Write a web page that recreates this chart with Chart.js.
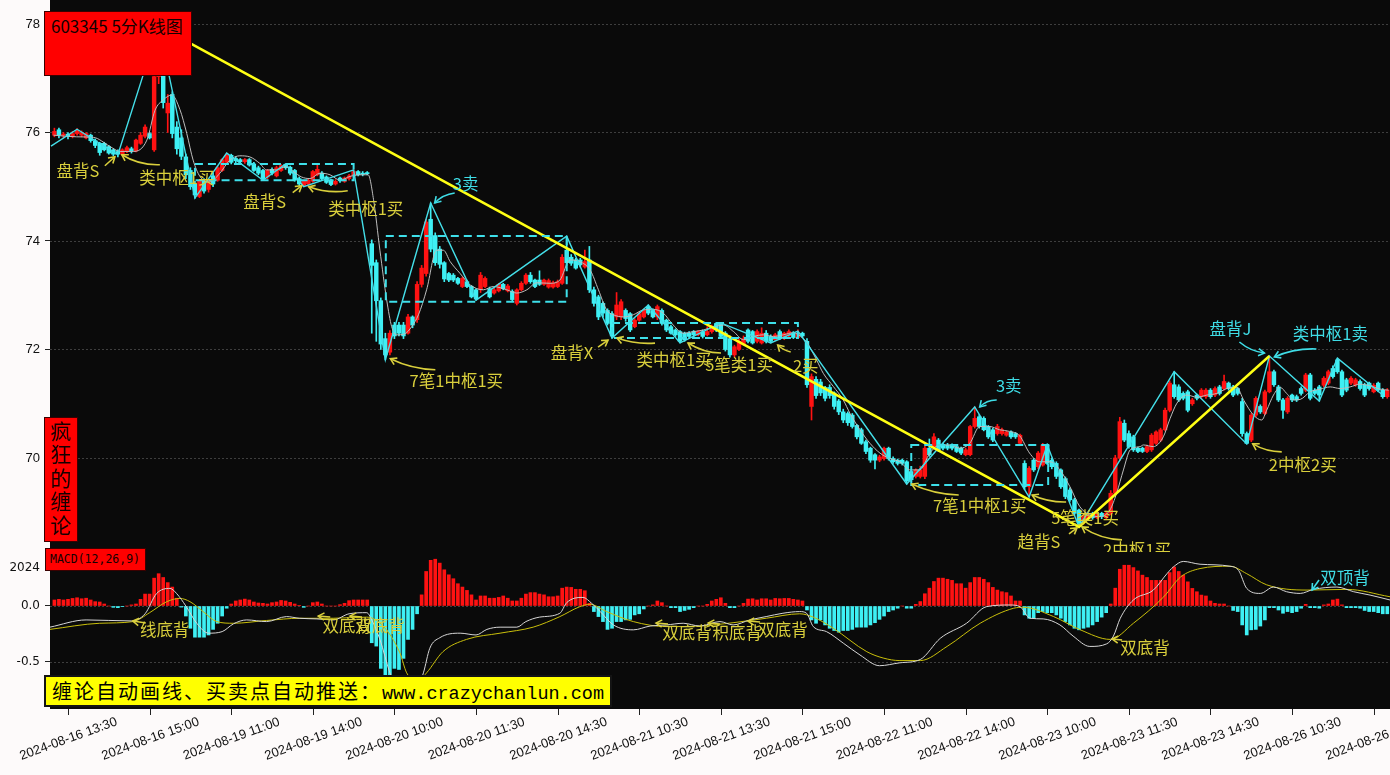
<!DOCTYPE html>
<html lang="zh">
<head>
<meta charset="utf-8">
<title>603345 5分K线图</title>
<script src="https://cdn.jsdelivr.net/npm/chart.js@4.4.1/dist/chart.umd.min.js"></script>
<style>
html,body{margin:0;padding:0;background:#fdfafa;width:1390px;height:775px;overflow:hidden;}
#wrap{position:relative;width:1390px;height:775px;}
canvas{position:absolute;left:0;display:block;}
#c1{top:0;width:1390px;height:552px;}
#c2{top:552px;width:1390px;height:223px;}
.tag{position:absolute;box-sizing:border-box;background:#ff0000;border:1px solid #3a0000;color:#140000;font-family:"Noto Sans CJK SC",sans-serif;}
#title{left:44px;top:11px;width:148px;height:65px;font-size:17px;line-height:28px;padding-left:6px;white-space:nowrap;}
#side{left:44px;top:417px;width:34px;height:125px;font-size:21px;line-height:23.4px;text-align:center;padding-top:1px;}
#macdlab{left:45px;top:548px;width:101px;height:23px;font-family:"DejaVu Sans Mono",monospace;font-size:11.5px;line-height:21px;padding-left:4px;}
#banner{position:absolute;box-sizing:border-box;left:44px;top:675px;width:568px;height:32px;background:#ffff00;border:2px solid #141414;color:#000;line-height:27px;padding-left:6px;white-space:nowrap;}
#banner .cn{font-family:"Noto Sans CJK SC",sans-serif;font-size:20px;letter-spacing:2px;}
#banner .url{font-family:"Liberation Mono",monospace;font-size:18.5px;}
</style>
</head>
<body>
<div id="wrap">
<canvas id="c1" width="1390" height="552"></canvas>
<canvas id="c2" width="1390" height="223"></canvas>
<div class="tag" id="title">603345 5分K线图</div>
<div class="tag" id="side">疯<br>狂<br>的<br>缠<br>论</div>
<div class="tag" id="macdlab">MACD(12,26,9)</div>
<div id="banner"><span class="cn">缠论自动画线、买卖点自动推送：</span><span class="url">www.crazychanlun.com</span></div>
</div>
<script>
// ---------------- data (5-minute bars, index 0 = 2024-08-16 13:15) ----------------
const opens = [
75.95,76.05,75.95,75.97,75.93,75.98,75.95,75.90,75.95,75.85,
75.80,75.80,75.74,75.68,75.65,75.60,75.65,75.70,75.66,75.80,
75.93,75.98,75.68,77.03,77.70,76.36,76.70,76.10,75.90,75.55,
75.30,75.05,74.82,75.10,74.95,75.20,75.12,75.30,75.45,75.58,
75.52,75.50,75.46,75.50,75.42,75.35,75.30,75.18,75.32,75.20,
75.30,75.41,75.36,75.30,75.15,75.02,75.05,75.10,75.22,75.25,
75.18,75.12,75.05,75.16,75.10,75.15,75.20,75.28,75.25,75.26,
73.95,73.60,72.90,72.20,71.95,72.45,72.45,72.45,72.30,72.60,
72.55,73.20,73.40,74.40,74.10,73.85,73.60,73.40,73.37,73.31,
73.16,73.25,73.16,73.10,73.10,73.16,73.12,73.04,73.08,73.20,
73.08,73.07,72.85,73.10,73.22,73.37,73.28,73.28,73.20,73.15,
73.15,73.16,73.22,73.83,73.70,73.65,73.65,73.52,73.65,73.10,
72.97,72.85,72.72,72.66,72.60,72.60,72.72,72.66,72.42,72.54,
72.60,72.79,72.72,72.60,72.72,72.54,72.42,72.36,72.33,72.30,
72.30,72.33,72.27,72.33,72.27,72.33,72.48,72.48,72.30,72.20,
71.90,72.00,72.10,72.36,72.33,72.15,72.12,72.30,72.24,72.18,
72.33,72.20,72.25,72.30,72.22,72.30,72.15,70.95,71.45,71.40,
71.30,71.30,71.20,71.05,70.85,70.82,70.79,70.60,70.52,70.30,
70.18,70.06,69.96,69.99,70.18,69.99,69.96,69.96,69.93,69.75,
69.66,69.66,69.66,70.18,70.21,70.33,70.24,70.24,70.24,70.21,
70.18,70.06,70.06,70.58,70.76,70.73,70.58,70.52,70.45,70.45,
70.42,70.48,70.45,70.27,69.90,69.47,69.96,69.84,69.87,70.24,
69.96,69.90,69.78,69.62,69.41,69.23,69.04,68.82,68.88,68.98,
68.90,68.98,68.90,68.98,69.35,70.00,70.64,70.45,70.39,70.18,
70.18,70.12,70.15,70.27,70.33,70.52,70.88,71.35,71.31,71.19,
71.22,71.00,71.16,71.13,71.13,71.25,71.16,71.31,71.28,71.38,
71.31,71.28,71.04,70.45,70.33,70.79,70.95,70.82,71.22,71.59,
71.31,71.07,70.85,71.16,71.13,71.28,71.25,71.53,71.25,71.31,
71.34,71.38,71.65,71.81,71.59,71.44,71.38,71.35,71.41,71.35,
71.38,71.22,71.38,71.25,71.13];
const highs = [
76.08,76.08,76.00,76.00,76.02,76.07,76.03,76.00,75.97,75.88,
75.82,75.82,75.76,75.70,75.68,75.70,75.75,75.73,75.88,76.00,
76.14,76.00,77.10,77.96,77.80,76.70,76.75,76.20,76.05,75.60,
75.35,75.10,75.12,75.15,75.12,75.25,75.38,75.52,75.62,75.60,
75.55,75.52,75.52,75.52,75.45,75.38,75.32,75.32,75.35,75.38,
75.41,75.42,75.38,75.32,75.18,75.12,75.15,75.30,75.40,75.28,
75.20,75.14,75.13,75.18,75.18,75.23,75.31,75.30,75.28,75.28,
74.02,73.65,72.95,72.30,72.35,72.50,72.50,72.50,72.65,72.62,
73.25,73.55,74.40,74.70,74.15,73.90,73.62,73.42,73.40,73.33,
73.34,73.28,73.18,73.12,73.42,73.34,73.15,73.13,73.22,73.22,
73.20,73.10,73.12,73.25,73.40,73.42,73.30,73.45,73.30,73.30,
73.26,73.28,73.75,74.09,73.75,73.68,73.68,73.83,73.90,73.15,
73.00,72.88,72.75,72.70,73.05,72.92,72.75,72.68,72.57,72.69,
72.75,72.82,72.75,72.82,72.75,72.56,72.45,72.38,72.35,72.32,
72.33,72.35,72.35,72.36,72.42,72.45,72.50,72.49,72.33,72.25,
72.08,72.20,72.25,72.38,72.35,72.36,72.40,72.35,72.27,72.30,
72.36,72.32,72.36,72.33,72.36,72.32,72.20,71.55,71.50,71.45,
71.32,71.35,71.22,71.08,70.90,70.85,70.82,70.62,70.55,70.33,
70.20,70.08,70.05,70.20,70.20,70.02,69.98,69.98,69.95,69.78,
69.80,69.85,70.22,70.35,70.45,70.36,70.27,70.27,70.26,70.24,
70.20,70.18,70.60,70.94,70.80,70.76,70.60,70.55,70.62,70.55,
70.50,70.50,70.47,70.44,69.95,69.84,69.99,70.12,70.27,70.26,
70.00,69.93,69.80,69.65,69.45,69.26,69.06,68.95,68.98,69.00,
69.02,69.00,69.02,69.40,70.05,70.75,70.70,70.50,70.42,70.20,
70.20,70.24,70.45,70.50,70.55,70.92,71.42,71.59,71.35,71.22,
71.25,71.10,71.18,71.28,71.28,71.28,71.31,71.34,71.53,71.40,
71.34,71.30,71.10,70.48,70.82,71.13,70.98,71.25,71.88,71.62,
71.34,71.10,71.13,71.18,71.16,71.31,71.56,71.56,71.28,71.34,
71.50,71.62,71.70,71.84,71.62,71.47,71.50,71.47,71.44,71.38,
71.40,71.37,71.40,71.28,71.28];
const lows = [
75.92,75.90,75.90,75.88,75.90,75.95,75.92,75.88,75.82,75.72,
75.58,75.66,75.60,75.57,75.55,75.58,75.63,75.62,75.64,75.78,
75.90,75.88,75.65,76.90,76.45,76.00,75.90,75.60,75.50,75.15,
74.95,74.79,74.80,74.88,74.90,75.00,75.10,75.28,75.42,75.42,
75.44,75.44,75.43,75.38,75.28,75.22,75.12,75.15,75.22,75.18,
75.28,75.32,75.22,75.10,75.02,75.00,75.02,75.08,75.20,75.12,
75.06,75.02,75.03,75.08,75.08,75.12,75.18,75.20,75.20,75.22,
72.30,72.15,72.00,71.81,71.90,72.20,72.25,72.20,72.28,72.40,
72.50,73.15,73.35,73.80,73.55,73.50,73.25,73.25,73.25,73.20,
73.14,73.14,72.95,72.91,73.05,73.14,72.95,73.02,73.06,73.10,
73.06,72.90,72.82,73.08,73.20,73.22,73.14,73.18,73.18,73.13,
73.13,73.14,73.20,73.55,73.55,73.48,73.52,73.50,73.05,72.80,
72.55,72.60,72.45,72.21,72.55,72.55,72.52,72.33,72.40,72.52,
72.58,72.64,72.58,72.55,72.45,72.33,72.28,72.24,72.12,72.15,
72.21,72.24,72.25,72.21,72.25,72.30,72.33,72.20,71.97,71.86,
71.86,71.98,72.08,72.12,72.10,72.12,72.10,72.12,72.12,72.16,
72.18,72.18,72.22,72.20,72.20,72.22,71.30,70.70,71.10,71.15,
71.05,71.10,70.90,70.80,70.65,70.60,70.55,70.35,70.25,70.08,
69.92,69.80,69.93,69.96,69.96,69.90,69.87,69.87,69.52,69.56,
69.63,69.63,69.62,70.03,70.18,70.12,70.15,70.15,70.15,70.10,
70.06,70.04,70.04,70.55,70.55,70.50,70.36,70.30,70.42,70.42,
70.40,70.36,70.36,70.24,69.42,69.28,69.75,69.80,69.85,69.88,
69.80,69.62,69.44,69.25,69.20,68.95,68.73,68.78,68.85,68.87,
68.88,68.88,68.87,68.95,69.30,69.95,70.30,70.18,70.12,70.10,
70.10,70.10,70.12,70.25,70.30,70.50,70.85,71.10,71.04,71.07,
70.85,70.97,71.07,71.10,71.10,71.10,71.13,71.16,71.25,71.25,
71.13,71.16,70.40,70.26,70.30,70.76,70.82,70.80,71.20,71.32,
71.04,70.73,70.82,71.04,71.04,71.16,71.22,71.07,71.16,71.05,
71.31,71.35,71.47,71.56,71.13,71.22,71.35,71.32,71.25,71.13,
71.25,71.20,71.22,71.10,71.10];
const closes = [
76.02,75.95,75.97,75.93,75.98,76.04,76.00,75.98,75.85,75.76,
75.63,75.68,75.62,75.60,75.60,75.68,75.72,75.66,75.86,75.95,
76.10,75.90,77.03,77.70,76.55,76.54,75.98,75.70,75.56,75.22,
75.00,74.85,75.10,74.92,75.10,75.05,75.35,75.50,75.58,75.45,
75.48,75.46,75.50,75.40,75.30,75.25,75.15,75.30,75.25,75.35,
75.39,75.35,75.25,75.12,75.05,75.10,75.12,75.28,75.32,75.15,
75.08,75.04,75.10,75.11,75.16,75.20,75.28,75.22,75.23,75.24,
73.55,72.90,72.10,71.90,72.30,72.25,72.30,72.25,72.60,72.45,
73.20,73.50,74.35,73.85,73.60,73.57,73.30,73.28,73.28,73.22,
73.31,73.16,72.97,72.93,73.37,73.31,72.97,73.10,73.20,73.12,
73.17,72.92,73.10,73.22,73.37,73.25,73.16,73.20,73.28,73.27,
73.23,73.25,73.70,73.60,73.59,73.50,73.56,73.62,73.10,72.85,
72.60,72.67,72.48,72.25,72.82,72.88,72.57,72.36,72.54,72.66,
72.72,72.67,72.60,72.79,72.48,72.36,72.30,72.27,72.15,72.18,
72.24,72.27,72.33,72.24,72.33,72.42,72.36,72.24,72.00,71.90,
72.05,72.15,72.20,72.15,72.12,72.33,72.30,72.15,72.15,72.27,
72.20,72.30,72.33,72.22,72.30,72.25,71.35,71.50,71.15,71.20,
71.10,71.15,70.95,70.85,70.70,70.65,70.58,70.39,70.27,70.12,
69.96,69.96,70.02,70.18,69.99,69.93,69.90,69.90,69.58,69.60,
69.78,69.78,70.18,70.06,70.39,70.15,70.18,70.18,70.18,70.12,
70.09,70.15,70.58,70.73,70.58,70.52,70.39,70.33,70.58,70.52,
70.48,70.39,70.39,70.42,69.47,69.81,69.78,70.09,70.24,69.90,
69.84,69.66,69.47,69.29,69.23,68.98,68.80,68.92,68.95,68.90,
68.96,68.92,68.98,69.35,70.00,70.67,70.33,70.21,70.15,70.12,
70.12,70.21,70.42,70.48,70.52,70.88,71.38,71.13,71.07,71.10,
70.88,71.07,71.10,71.25,71.25,71.13,71.28,71.19,71.41,71.28,
71.16,71.19,70.45,70.27,70.79,71.10,70.85,71.22,71.59,71.35,
71.07,70.88,71.10,71.07,71.07,71.19,71.53,71.10,71.19,71.16,
71.47,71.59,71.50,71.59,71.16,71.25,71.47,71.44,71.28,71.16,
71.28,71.34,71.25,71.13,71.25];
// moving average (grey): [bar index, price]
const maPts = [[-0.2,75.95],[4.9,75.92],[8.6,75.91],[12.3,75.74],[14.5,75.65],[17.4,75.65],[20.4,75.86],[22.2,76.41],[24,76.6],[25.9,76.69],[27.7,76.42],[29.2,75.98],[30.6,75.49],[32.1,75.19],[34.3,75.09],[36.5,75.25],[38.7,75.49],[40.9,75.57],[43.1,75.55],[45.3,75.43],[46.8,75.31],[49,75.31],[50.9,75.37],[52.7,75.28],[54.5,75.18],[56.4,75.15],[58.6,75.25],[60.8,75.22],[63,75.12],[65.2,75.19],[67.4,75.22],[69.2,75.22],
[70.4,74.76],[71.8,73.83],[73.3,72.91],[74.4,72.42],[75.5,72.27],[77.3,72.29],[78.8,72.42],[80.3,72.64],[82.1,73.10],[84.3,73.83],[85.8,73.83],[87.3,73.62],[89.5,73.40],[91.7,73.19],[94.6,73.10],[96.8,73.16],[99.8,73.10],[102,73.04],[104.2,73.10],[106.4,73.23],[109.3,73.22],[111.5,73.28],[113.7,73.65],[115.9,73.62],[118.2,73.46],[120,73.10],[121.8,72.73],[123.3,72.64],[125.5,72.60],[127.7,72.64],[129.9,72.73],[132.1,72.74],[134.3,72.67],[136.5,72.45],[138.7,72.30],[141,72.33],[143.2,72.36],[145.4,72.42],[147.6,72.45],[149.8,72.33],[152,72.18],[154.2,72.24],[156.4,72.27],[158.6,72.24],[160.8,72.27],[163,72.31],
[164.1,72.27],[165.9,72.14],[168.1,71.81],[169.6,71.56],[171.8,71.32],[174,71.07],[175.5,70.82],[177.7,70.52],[179.9,70.27],[182.1,70.09],[184.3,69.99],[186.5,69.93],[188.7,69.78],[190.9,69.78],[193.1,70.09],[195.3,70.24],[197.5,70.24],[199.7,70.18],[201.9,70.27],[204.1,70.58],[206.3,70.58],[208.5,70.52],[210.7,70.49],[212.9,70.41],[215.1,70.09],[217.3,69.93],[219.6,69.93],[221.8,69.78],[224,69.47],[226.2,69.10],[228.4,68.95],[230.6,68.92],[232.8,69.04],[234.3,69.35],[235.8,69.78],[237.3,70.15],[239.5,70.21],
[240.2,70.24],[242.4,70.21],[244.6,70.39],[246.1,70.73],[247.6,71.01],[249.8,71.16],[252,71.12],[254.2,71.16],[256.4,71.19],[258.6,71.28],[260.8,71.30],[262.3,71.07],[264.5,70.79],[266.3,70.70],[267.4,70.88],[268.9,71.16],[270.4,71.30],[271.8,71.19],[273.3,71.07],[274.8,71.08],[277,71.22],[279.2,71.27],[281.4,71.31],[283.6,71.28],[285.8,71.31],[288,71.36],[290.2,71.33],[292.4,71.27],[294.3,71.25]];
// 笔 (cyan zigzag) and 线段 (yellow) pivots: [bar index, price]
const biPts = [[-0.75,75.75],[5,76.06],[14,75.59],[23,77.96],[31,74.79],[38,75.62],[46,75.12],[51,75.42],[55,75.0],[66,75.31],[73,71.81],[83,74.70],[93,72.91],[113,74.09],[123,72.21],[131,72.82],[138,72.12],[147,72.49],[158,72.12],[164,72.34],[188,69.52],[203,70.94],[215,69.28],[219,70.24],[226,68.73],[247,71.59],[263,70.26],[268,71.88],[279,71.05],[283,71.84],[293,71.16]];
const segPts = [[23,77.96],[226,68.73],[268,71.88]];
// 中枢 boxes: [start index, end index, low, high]
const zsBoxes = [[31,66,75.12,75.42],[73.1,113,72.88,74.09],[123,164,72.21,72.49],[189,219.2,69.50,70.24]];
// MACD
const macdHist = [
0.054,0.06,0.054,0.06,0.068,0.074,0.065,0.07,0.054,0.039,
0.036,0.018,0,-0.012,-0.015,-0.006,0,0.01,0.018,0.06,
0.107,0.107,0.25,0.29,0.256,0.21,0.17,0.07,-0.01,-0.09,
-0.2,-0.28,-0.28,-0.28,-0.26,-0.21,-0.155,-0.09,-0.02,0.018,
0.045,0.054,0.062,0.054,0.036,0.027,0.024,0.018,0.03,0.036,
0.05,0.045,0.033,0.018,0.006,-0.012,0,0.03,0.036,0.018,
0,0,0,0.012,0.024,0.048,0.054,0.054,0.054,0.054,
-0.33,-0.36,-0.56,-0.65,-0.62,-0.56,-0.57,-0.47,-0.3,-0.21,
-0.07,0.1,0.31,0.41,0.42,0.385,0.325,0.28,0.245,0.2,
0.17,0.14,0.1,0.054,0.09,0.09,0.07,0.07,0.077,0.09,
0.07,0.045,0.045,0.07,0.107,0.12,0.12,0.107,0.1,0.083,
0.083,0.09,0.16,0.17,0.167,0.15,0.15,0.137,0.024,-0.05,
-0.095,-0.14,-0.21,-0.2,-0.14,-0.14,-0.125,-0.12,-0.08,-0.07,
-0.027,0,0.01,0.045,0.03,0,-0.015,-0.015,-0.05,-0.04,
-0.03,-0.015,0,0,0.015,0.045,0.06,0.074,0.024,-0.015,
-0.015,0,0.024,0.062,0.065,0.054,0.065,0.065,0.054,0.068,
0.065,0.068,0.068,0.06,0.054,0.045,-0.036,-0.125,-0.155,-0.125,
-0.17,-0.2,-0.22,-0.235,-0.22,-0.22,-0.21,-0.19,-0.19,-0.19,
-0.17,-0.15,-0.12,-0.09,-0.05,-0.036,-0.02,0,-0.02,-0.02,
0.015,0.04,0.11,0.16,0.22,0.25,0.25,0.24,0.23,0.2,
0.2,0.16,0.21,0.256,0.256,0.24,0.21,0.167,0.143,0.128,
0.12,0.09,0.045,0.045,-0.08,-0.11,-0.11,-0.06,-0.05,-0.06,
-0.06,-0.08,-0.11,-0.14,-0.17,-0.2,-0.214,-0.2,-0.19,-0.17,
-0.14,-0.1,-0.06,0.018,0.16,0.33,0.366,0.366,0.345,0.315,
0.277,0.256,0.23,0.23,0.23,0.23,0.3,0.35,0.31,0.277,
0.217,0.158,0.128,0.098,0.09,0.045,0.024,0.018,0.018,0,
-0.04,-0.05,-0.17,-0.26,-0.214,-0.21,-0.18,-0.125,-0.015,-0.015,
-0.036,-0.065,-0.05,-0.06,-0.05,-0.02,0.015,-0.015,-0.015,-0.02,
0.01,0.018,0.054,0.062,0.01,-0.015,-0.015,-0.015,-0.02,-0.04,
-0.05,-0.05,-0.06,-0.07,-0.07];
const difPts = [[-1,-0.19],[7,-0.125],[17,-0.134],[20,-0.07],[22.5,0.11],[25.5,0.158],[27,0.11],[29,0],[31.4,-0.155],[34,-0.244],[37,-0.23],[39.5,-0.16],[42.4,-0.125],[46.8,-0.14],[51.2,-0.095],[54,-0.11],[57.9,-0.116],[61.5,-0.125],[65,-0.07],[68.9,-0.06],[70,-0.125],[71.8,-0.3],[74,-0.6],[76,-0.8],[78,-0.88],[80,-0.75],[81.4,-0.6],[82.8,-0.38],[85,-0.285],[89.5,-0.244],[93,-0.26],[95.4,-0.21],[98.3,-0.19],[102,-0.19],[104,-0.14],[107,-0.1],[111.5,-0.065],[113,0.03],[116.6,0.077],[118.5,0.024],[120.4,-0.05],[123.3,-0.17],[127.7,-0.214],[131.4,-0.18],[135,-0.17],[138.7,-0.155],[142.4,-0.18],[146.8,-0.14],[149.7,-0.17],[153.4,-0.125],[157,-0.095],[160.7,-0.065],[164.4,-0.05],[165.9,-0.065],[167.4,-0.185],[170.3,-0.23],[174,-0.333],[177.7,-0.44],[182,-0.536],[186.5,-0.51],[191,-0.48],[195.4,-0.29],[201.2,-0.155],[205.6,-0.006],[210.8,0.009],[213,-0.006],[215.2,-0.11],[218.1,-0.116],[221.8,-0.17],[224.7,-0.27],[228.4,-0.363],[232.1,-0.34],[233.6,-0.27],[235.1,-0.11],[238,0.054],[242.4,0.143],[245.4,0.29],[246.8,0.35],[249,0.4],[252.7,0.375],[259.3,0.357],[261.2,0.32],[263,0.158],[266,0.113],[268.9,0.17],[271.8,0.128],[274.8,0.113],[277.7,0.149],[282.9,0.17],[286.6,0.128],[290.2,0.098],[294.6,0.054]];
const deaPts = [[-1,-0.21],[10,-0.155],[17.4,-0.14],[21,-0.06],[24.8,0.039],[27.7,0.068],[29.9,0.039],[32.8,-0.05],[35.8,-0.14],[39.5,-0.155],[46.8,-0.13],[54.2,-0.11],[61.5,-0.11],[68.9,-0.1],[72.6,-0.185],[76.2,-0.42],[77.7,-0.6],[80,-0.68],[82.1,-0.6],[85.7,-0.41],[90.9,-0.3],[98.3,-0.244],[105.6,-0.19],[111.5,-0.095],[115.9,-0.006],[118.1,0.015],[121.8,-0.05],[127.7,-0.14],[135,-0.185],[142.4,-0.18],[149.7,-0.15],[157,-0.11],[164.4,-0.07],[167.4,-0.1],[171.8,-0.2],[179.2,-0.41],[182.8,-0.467],[186.5,-0.49],[191,-0.49],[196.9,-0.363],[204.2,-0.155],[211.6,-0.02],[213.8,-0.012],[220.4,-0.095],[226.3,-0.214],[232.9,-0.3],[238,-0.155],[244.7,0.083],[248.4,0.26],[252.7,0.336],[259.3,0.357],[263,0.29],[267.4,0.19],[276.3,0.143],[285.1,0.149],[294.6,0.083]];
// axes
const priceTicks = [70,72,74,76,78];
const macdTicks = [-0.5,0,0.338];
const macdTickLabels = ['-0.5','0.0','2024'];
const tickIdx = [3,21,39,57,75,93,111,129,147,165,183,201,219,237,255,273,291];
const timeLabels = ['2024-08-16 13:30','2024-08-16 15:00','2024-08-19 11:00','2024-08-19 14:00','2024-08-20 10:00','2024-08-20 11:30','2024-08-20 14:30','2024-08-21 10:30','2024-08-21 13:30','2024-08-21 15:00','2024-08-22 11:00','2024-08-22 14:00','2024-08-23 10:00','2024-08-23 11:30','2024-08-23 14:30','2024-08-26 10:30','2024-08-26 13:30'];
// signal labels: anchor [index, value]; text offset and arrow offsets in px
const YEL = '#d9cf3c', CYN = '#3fdde6';
const priceNotes = [
 {t:'盘背S',c:YEL,at:[14,75.59],tx:-40,ty:16,a0:[-13,11],a1:[-3,2],b:0},
 {t:'类中枢1买',c:YEL,at:[14,75.59],tx:59,ty:23,a0:[42,10],a1:[4,0],b:-6},
 {t:'盘背S',c:YEL,at:[55,75.0],tx:-39,ty:15,a0:[-11,6],a1:[-2,-1],b:0},
 {t:'类中枢1买',c:YEL,at:[55,75.0],tx:62,ty:22,a0:[44,4],a1:[5,0],b:-5},
 {t:'3卖',c:CYN,at:[83,74.70],tx:35,ty:-19,a0:[24,-10],a1:[4,0],b:4},
 {t:'7笔1中枢1买',c:YEL,at:[73,71.81],tx:71,ty:21,a0:[50,10],a1:[5,-1],b:-5},
 {t:'盘背X',c:YEL,at:[123,72.21],tx:-40,ty:15,a0:[-14,9],a1:[-4,2],b:0},
 {t:'类中枢1买',c:YEL,at:[123,72.21],tx:62,ty:22,a0:[43,5],a1:[5,0],b:-4},
 {t:'5笔类1买',c:YEL,at:[138,72.12],tx:59,ty:22,a0:[41,10],a1:[8,0],b:-5},
 {t:'2买',c:YEL,at:[158,72.12],tx:35,ty:23,a0:[20,9],a1:[7,2],b:-2},
 {t:'3卖',c:CYN,at:[203,70.94],tx:34,ty:-21,a0:[22,-7],a1:[5,0],b:4},
 {t:'7笔1中枢1买',c:YEL,at:[188,69.52],tx:73,ty:22,a0:[52,11],a1:[5,0],b:-5},
 {t:'5笔类1买',c:YEL,at:[215,69.28],tx:56,ty:21,a0:[37,5],a1:[3,-2],b:-4},
 {t:'趋背S',c:YEL,at:[226,68.73],tx:-40,ty:15,a0:[-10,7],a1:[-2,1],b:0},
 {t:'2中枢1买',c:YEL,at:[226,68.73],tx:58,ty:23,a0:[43,13],a1:[3,0],b:-6},
 {t:'盘背J',c:CYN,at:[268,71.88],tx:-39,ty:-27,a0:[-30,-14],a1:[-5,-3],b:4},
 {t:'类中枢1卖',c:CYN,at:[268,71.88],tx:61,ty:-22,a0:[47,-7],a1:[5,1],b:5},
 {t:'2中枢2买',c:YEL,at:[263,70.26],tx:56,ty:21,a0:[35,8],a1:[6,0],b:-4}
];
const macdNotes = [
 {t:'线底背',c:YEL,at:[17.3,-0.135],tx:32,ty:9,a0:[13,2],a1:[0,0],b:0},
 {t:'双底背',c:YEL,at:[58.2,-0.09],tx:29,ty:10,a0:[12,1],a1:[0,0],b:0},
 {t:'双底背',c:YEL,at:[65.2,-0.09],tx:30,ty:10,a0:[12,1],a1:[0,0],b:0},
 {t:'双底背',c:YEL,at:[132.7,-0.153],tx:31,ty:10,a0:[12,1],a1:[0,0],b:0},
 {t:'积底背',c:YEL,at:[144.2,-0.153],tx:29,ty:10,a0:[12,1],a1:[0,0],b:0},
 {t:'双底背',c:YEL,at:[153,-0.135],tx:35,ty:9,a0:[12,1],a1:[0,0],b:0},
 {t:'双底背',c:YEL,at:[233.3,-0.296],tx:33,ty:9,a0:[10,1],a1:[0,0],b:0},
 {t:'双顶背',c:CYN,at:[277.4,0.144],tx:33,ty:-12,a0:[7,-10],a1:[0,0],b:0}
];

// ---------------- layout constants ----------------
const X_MIN = -0.97, X_MAX = 294.6;
const P_MIN = 68.267, P_MAX = 78.442;
const M_MIN = -0.9246, M_MAX = 0.4847;
const UP = '#ff1212', DOWN = '#3ef0f4';

const idx = closes.map((_, i) => i);
const candleColors = idx.map(i => closes[i] >= opens[i] ? UP : DOWN);
const histColors = macdHist.map(v => v >= 0 ? UP : DOWN);
const toXY = arr => arr.map(p => ({x: p[0], y: p[1]}));

function drawArrow(ctx, x0, y0, x1, y1, bend, color) {
  const mx = (x0 + x1) / 2, my = (y0 + y1) / 2;
  const dx = x1 - x0, dy = y1 - y0, len = Math.hypot(dx, dy) || 1;
  const cx = mx - dy / len * bend, cy = my + dx / len * bend;
  ctx.strokeStyle = color; ctx.lineWidth = 1.6; ctx.setLineDash([]);
  ctx.beginPath(); ctx.moveTo(x0, y0); ctx.quadraticCurveTo(cx, cy, x1, y1); ctx.stroke();
  const ang = Math.atan2(y1 - cy, x1 - cx), h = 7, w = 0.55;
  ctx.beginPath();
  ctx.moveTo(x1 - h * Math.cos(ang - w), y1 - h * Math.sin(ang - w));
  ctx.lineTo(x1, y1);
  ctx.lineTo(x1 - h * Math.cos(ang + w), y1 - h * Math.sin(ang + w));
  ctx.stroke();
}

const bgPlugin = {id: 'bg', beforeDraw(c) {
  const {ctx, chartArea: a} = c; ctx.save(); ctx.fillStyle = '#0a0a0a';
  ctx.fillRect(a.left, a.top, a.width, a.height); ctx.restore();
}};
function gridPlugin(values) {
  return {id: 'dotgrid', beforeDatasetsDraw(c) {
    const {ctx, chartArea: a, scales: {y}} = c;
    ctx.save(); ctx.strokeStyle = '#3e3e3e'; ctx.lineWidth = 1; ctx.setLineDash([2, 2]);
    values.forEach(v => {
      const py = Math.round(y.getPixelForValue(v)) + 0.5;
      ctx.beginPath(); ctx.moveTo(a.left, py); ctx.lineTo(a.right, py); ctx.stroke();
    });
    ctx.restore();
  }};
}
function notesPlugin(notes, boxes, fontPx) {
  return {id: 'notes', afterDatasetsDraw(c) {
    const {ctx, chartArea: a, scales: {x, y}} = c;
    ctx.save();
    ctx.beginPath(); ctx.rect(a.left, a.top, a.width, a.height); ctx.clip();
    boxes.forEach(b => {
      const x0 = x.getPixelForValue(b[0]), x1 = x.getPixelForValue(b[1]);
      const y0 = y.getPixelForValue(b[3]), y1 = y.getPixelForValue(b[2]);
      ctx.strokeStyle = '#3ee0ea'; ctx.lineWidth = 2; ctx.setLineDash([8, 5]);
      ctx.strokeRect(x0, y0, x1 - x0, y1 - y0);
    });
    ctx.setLineDash([]);
    ctx.font = fontPx + 'px "Noto Sans CJK SC", sans-serif';
    ctx.textAlign = 'center'; ctx.textBaseline = 'middle';
    notes.forEach(n => {
      const px = x.getPixelForValue(n.at[0]), py = y.getPixelForValue(n.at[1]);
      drawArrow(ctx, px + n.a0[0], py + n.a0[1], px + n.a1[0], py + n.a1[1], n.b, n.c);
      ctx.fillStyle = n.c;
      ctx.fillText(n.t, px + n.tx, py + n.ty);
    });
    ctx.restore();
  }};
}
const xLabelPlugin = {id: 'xlabels', afterDraw(c) {
  const {ctx, chartArea: a, scales: {x}} = c;
  ctx.save();
  ctx.strokeStyle = '#222'; ctx.lineWidth = 1;
  ctx.font = '13px "Liberation Sans", Arial, sans-serif';
  ctx.fillStyle = '#111'; ctx.textAlign = 'center'; ctx.textBaseline = 'middle';
  tickIdx.forEach((v, k) => {
    const px = Math.round(x.getPixelForValue(v)) + 0.5;
    ctx.beginPath(); ctx.moveTo(px, a.bottom); ctx.lineTo(px, a.bottom + 6); ctx.stroke();
    ctx.save(); ctx.translate(px, a.bottom + 30); ctx.rotate(-20 * Math.PI / 180);
    ctx.fillText(timeLabels[k], 0, 0); ctx.restore();
  });
  ctx.restore();
}};

function yAxis(min, max, tickVals, labelFn, fontFamily, size) {
  return {
    type: 'linear', position: 'left', min: min, max: max,
    afterFit(s) { s.width = 50; s.paddingTop = 0; s.paddingBottom = 0; },
    afterBuildTicks(s) { s.ticks = tickVals.map(v => ({value: v})); },
    ticks: {color: '#111', padding: 5, font: {family: fontFamily, size: size}, callback: labelFn},
    grid: {drawOnChartArea: false, drawTicks: true, tickLength: 5, tickColor: '#222'},
    border: {display: false}
  };
}
const xAxis = {type: 'linear', min: X_MIN, max: X_MAX, display: false, offset: false};

Chart.defaults.font.family = '"Liberation Sans", Arial, sans-serif';

new Chart(document.getElementById('c1'), {
  type: 'bar',
  data: {datasets: [
    {type: 'line', label: '线段', data: toXY(segPts), borderColor: '#ffff14', borderWidth: 2.5, pointRadius: 0, order: 1},
    {type: 'line', label: '笔', data: toXY(biPts), borderColor: '#44dfe9', borderWidth: 1.4, pointRadius: 0, order: 2},
    {type: 'line', label: 'MA', data: toXY(maPts), borderColor: '#bdbdbd', borderWidth: 1, pointRadius: 0, cubicInterpolationMode: 'monotone', order: 3},
    {label: 'body', data: idx.map(i => ({x: i, y: [opens[i], closes[i]]})), backgroundColor: candleColors, barThickness: 3.8, minBarLength: 1, grouped: false, order: 4},
    {label: 'wick', data: idx.map(i => ({x: i, y: [lows[i], highs[i]]})), backgroundColor: candleColors, barThickness: 1, grouped: false, order: 5}
  ]},
  options: {
    responsive: false, animation: false, devicePixelRatio: 1,
    layout: {padding: 0},
    plugins: {legend: {display: false}, tooltip: {enabled: false}},
    scales: {
      x: xAxis,
      y: yAxis(P_MIN, P_MAX, priceTicks, v => String(v), '"Liberation Sans", Arial, sans-serif', 13)
    }
  },
  plugins: [bgPlugin, gridPlugin(priceTicks), notesPlugin(priceNotes, zsBoxes, 16.5)]
});

new Chart(document.getElementById('c2'), {
  type: 'bar',
  data: {datasets: [
    {type: 'line', label: 'DIF', data: toXY(difPts), borderColor: '#d6d6d6', borderWidth: 1, pointRadius: 0, cubicInterpolationMode: 'monotone', order: 1},
    {type: 'line', label: 'DEA', data: toXY(deaPts), borderColor: '#c9bf0a', borderWidth: 1, pointRadius: 0, cubicInterpolationMode: 'monotone', order: 2},
    {label: 'MACD', data: idx.map(i => ({x: i, y: macdHist[i]})), backgroundColor: histColors, barThickness: 3, grouped: false, order: 3}
  ]},
  options: {
    responsive: false, animation: false, devicePixelRatio: 1,
    layout: {padding: {left: 0, right: 0, top: 0, bottom: 66}},
    plugins: {legend: {display: false}, tooltip: {enabled: false}},
    scales: {
      x: xAxis,
      y: yAxis(M_MIN, M_MAX, macdTicks, v => macdTickLabels[macdTicks.indexOf(v)] ?? String(v), '"DejaVu Sans", sans-serif', 12)
    }
  },
  plugins: [bgPlugin, gridPlugin(macdTicks.slice(0, 2)), notesPlugin(macdNotes, [], 16.5), xLabelPlugin]
});
</script>
</body>
</html>
